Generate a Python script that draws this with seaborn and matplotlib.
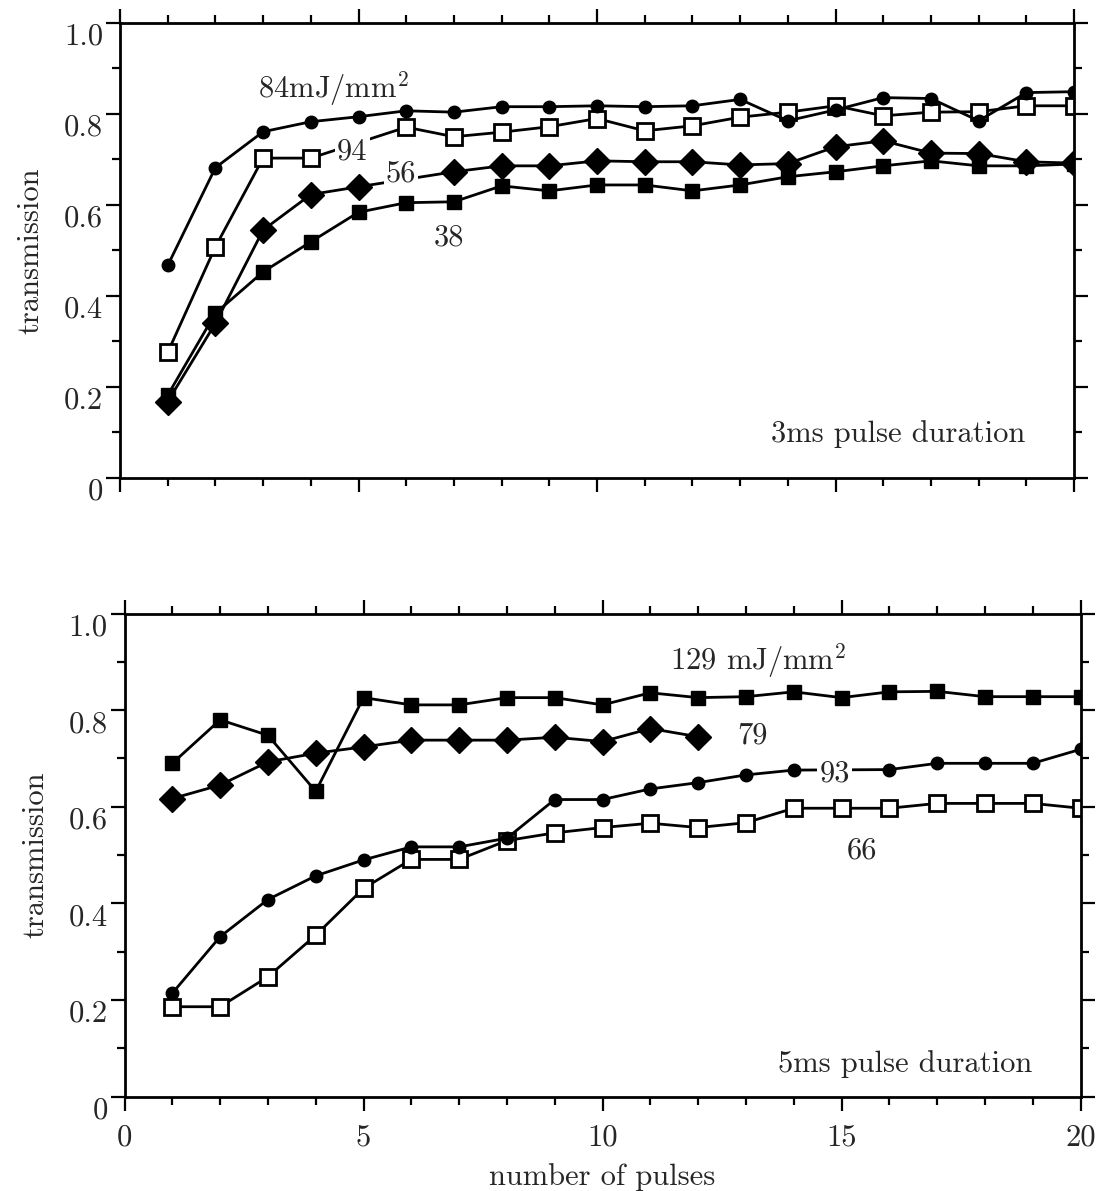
import matplotlib
matplotlib.use("Agg")
import matplotlib.pyplot as plt
from matplotlib.ticker import FixedLocator, FixedFormatter, MultipleLocator
from matplotlib.transforms import ScaledTranslation
import pandas as pd
import seaborn as sns

# ---------------- data ----------------
pulses = list(range(1, 21))

# 3 ms pulse duration
top_84_x = pulses
top_84 = [0.467, 0.682, 0.761, 0.783, 0.794, 0.807, 0.804, 0.816, 0.816, 0.818,
          0.816, 0.818, 0.832, 0.785, 0.809, 0.836, 0.834, 0.785, 0.847, 0.849]
top_94_x = [1, 2, 3, 4, 6, 7, 8, 9, 10, 11, 12, 13, 14, 15, 16, 17, 18, 19, 20]
top_94 = [0.276, 0.508, 0.703, 0.703, 0.771, 0.750, 0.760, 0.772, 0.790, 0.763,
          0.774, 0.793, 0.804, 0.818, 0.796, 0.804, 0.805, 0.818, 0.818]
top_56_x = [1, 2, 3, 4, 5, 7, 8, 9, 10, 11, 12, 13, 14, 15, 16, 17, 18, 19, 20]
top_56 = [0.168, 0.340, 0.545, 0.623, 0.640, 0.673, 0.686, 0.686, 0.697, 0.695,
          0.695, 0.688, 0.691, 0.728, 0.741, 0.714, 0.713, 0.695, 0.692]
top_38_x = pulses
top_38 = [0.182, 0.362, 0.453, 0.519, 0.584, 0.605, 0.607, 0.642, 0.631, 0.644,
          0.644, 0.631, 0.644, 0.662, 0.673, 0.686, 0.697, 0.686, 0.686, 0.690]

# 5 ms pulse duration
bot_129_x = pulses
bot_129 = [0.690, 0.780, 0.748, 0.632, 0.826, 0.811, 0.811, 0.826, 0.826, 0.811,
           0.836, 0.826, 0.828, 0.838, 0.826, 0.838, 0.839, 0.828, 0.828, 0.828]
bot_79_x = list(range(1, 13))
bot_79 = [0.617, 0.645, 0.693, 0.711, 0.724, 0.738, 0.738, 0.738, 0.744, 0.735,
          0.762, 0.745]
bot_93_x = [1, 2, 3, 4, 5, 6, 7, 8, 9, 10, 11, 12, 13, 14, 16, 17, 18, 19, 20]
bot_93 = [0.214, 0.331, 0.408, 0.457, 0.490, 0.517, 0.517, 0.535, 0.615, 0.615,
          0.637, 0.650, 0.666, 0.676, 0.677, 0.690, 0.690, 0.690, 0.719]
bot_66_x = pulses
bot_66 = [0.186, 0.186, 0.248, 0.334, 0.431, 0.491, 0.491, 0.530, 0.546, 0.557,
          0.566, 0.557, 0.567, 0.597, 0.597, 0.597, 0.607, 0.607, 0.607, 0.597]

y_tick_values = [0.0, 0.2, 0.4, 0.6, 0.8, 1.0]
y_tick_labels = ["0", "0.2", "0.4", "0.6", "0.8", "1.0"]
x_tick_values = [0, 5, 10, 15, 20]
x_tick_labels = ["0", "5", "10", "15", "20"]

# ---------------- style ----------------
sns.set_style("ticks")
plt.rcParams["font.family"] = ["cmr10", "DejaVu Serif"]
plt.rcParams["mathtext.fontset"] = "cm"
plt.rcParams["axes.formatter.use_mathtext"] = True

TXT = 22
TICK = 22
LW = 2.0

fig = plt.figure(figsize=(10.96, 11.91), dpi=100)
ax_top = fig.add_axes([0.1095, 0.5987, 0.8705, 0.3820])
ax_bot = fig.add_axes([0.1136, 0.0793, 0.8723, 0.4055])

marker_styles = {
    "circle": dict(marker="o", markersize=9, markerfacecolor="black",
                   markeredgecolor="black", markeredgewidth=1),
    "open_square": dict(marker="s", markersize=11, markerfacecolor="white",
                        markeredgecolor="black", markeredgewidth=2.0),
    "diamond": dict(marker="D", markersize=13, markerfacecolor="black",
                    markeredgecolor="black", markeredgewidth=1),
    "square": dict(marker="s", markersize=10, markerfacecolor="black",
                   markeredgecolor="black", markeredgewidth=1),
}


def draw_series(ax, xs, ys, kind):
    df = pd.DataFrame({"pulse": xs, "transmission": ys})
    sns.lineplot(data=df, x="pulse", y="transmission", ax=ax, color="black",
                 linewidth=LW, estimator=None, sort=False, legend=False,
                 **marker_styles[kind])


def style_axes(ax, show_xlabels):
    ax.set_xlim(0, 20)
    ax.set_ylim(0, 1.0)
    for side in ["left", "right", "top", "bottom"]:
        ax.spines[side].set_visible(True)
        ax.spines[side].set_linewidth(LW)
        ax.spines[side].set_color("black")
    ax.yaxis.set_major_locator(FixedLocator(y_tick_values))
    ax.yaxis.set_major_formatter(FixedFormatter(y_tick_labels))
    ax.yaxis.set_minor_locator(MultipleLocator(0.1))
    ax.xaxis.set_major_locator(FixedLocator(x_tick_values))
    ax.xaxis.set_major_formatter(FixedFormatter(x_tick_labels))
    ax.xaxis.set_minor_locator(MultipleLocator(1))
    ax.tick_params(which="both", direction="out", top=True, right=True,
                   bottom=True, left=True, width=1.6, color="black")
    ax.tick_params(which="major", length=10, labelsize=TICK)
    ax.tick_params(which="minor", length=6)
    ax.tick_params(axis="y", which="major", pad=2)
    ax.tick_params(axis="x", which="major", pad=10)
    ax.tick_params(labelright=False, labeltop=False,
                   labelbottom=show_xlabels)
    # y tick labels sit just below their tick marks
    shift = ScaledTranslation(0, -8 / 72, fig.dpi_scale_trans)
    for lab in ax.get_yticklabels():
        lab.set_transform(lab.get_transform() + shift)
    ax.set_ylabel("transmission", fontsize=TXT, labelpad=14)
    ax.grid(False)


# ---- top panel: 3 ms ----
draw_series(ax_top, top_38_x, top_38, "square")
draw_series(ax_top, top_56_x, top_56, "diamond")
draw_series(ax_top, top_94_x, top_94, "open_square")
draw_series(ax_top, top_84_x, top_84, "circle")
style_axes(ax_top, show_xlabels=False)
ax_top.set_xlabel("")

box = dict(facecolor="white", edgecolor="none", pad=1.5)
ax_top.text(2.90, 0.836, r"84mJ/mm$^2$", fontsize=TXT, ha="left", va="baseline")
ax_top.text(4.87, 0.700, "94", fontsize=TXT, ha="center", va="baseline",
            bbox=box, zorder=10)
ax_top.text(5.89, 0.651, "56", fontsize=TXT, ha="center", va="baseline",
            bbox=box, zorder=10)
ax_top.text(6.90, 0.512, "38", fontsize=TXT, ha="center", va="baseline")
ax_top.text(18.97, 0.080, "3ms pulse duration", fontsize=TXT, ha="right",
            va="baseline")

# ---- bottom panel: 5 ms ----
draw_series(ax_bot, bot_66_x, bot_66, "open_square")
draw_series(ax_bot, bot_93_x, bot_93, "circle")
draw_series(ax_bot, bot_79_x, bot_79, "diamond")
draw_series(ax_bot, bot_129_x, bot_129, "square")
style_axes(ax_bot, show_xlabels=True)
ax_bot.set_xlabel("number of pulses", fontsize=TXT, labelpad=8)

ax_bot.text(11.41, 0.883, r"129 mJ/mm$^2$", fontsize=TXT, ha="left",
            va="baseline")
ax_bot.text(13.14, 0.730, "79", fontsize=TXT, ha="center", va="baseline")
ax_bot.text(14.86, 0.652, "93", fontsize=TXT, ha="center", va="baseline",
            bbox=box, zorder=10)
ax_bot.text(15.43, 0.493, "66", fontsize=TXT, ha="center", va="baseline")
ax_bot.text(18.99, 0.051, "5ms pulse duration", fontsize=TXT, ha="right",
            va="baseline")

fig.savefig("out.png", dpi=100, facecolor="white")
